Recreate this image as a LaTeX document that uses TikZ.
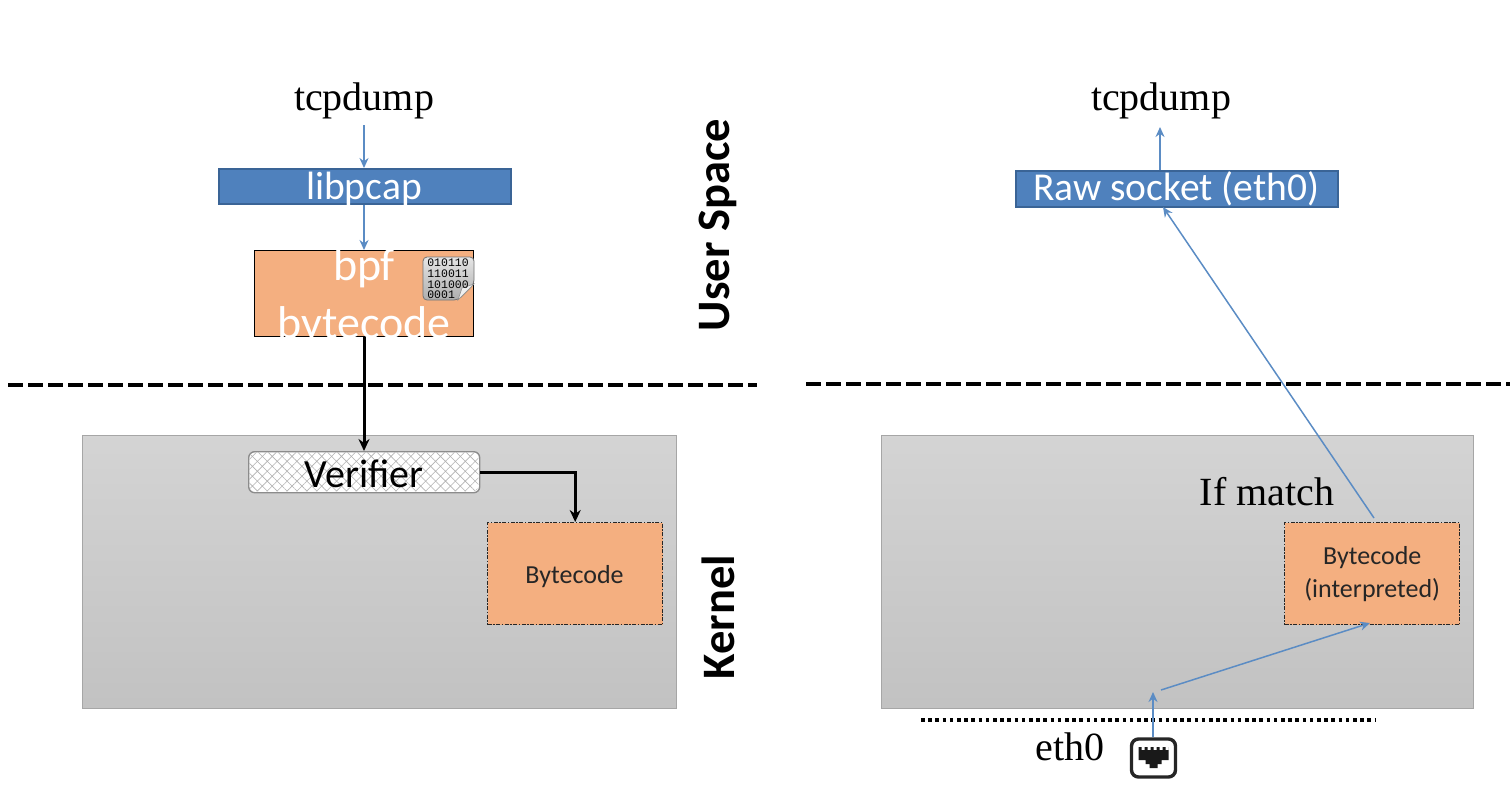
\documentclass[tikz,border=0pt]{standalone}
\usepackage{fontspec}
\setmainfont{Liberation Serif}
\newfontfamily\carl{Carlito}
\newfontfamily\monof{Liberation Mono}
\usetikzlibrary{patterns,patterns.meta,arrows.meta,calc}
\definecolor{blueA}{HTML}{4F81BD}
\definecolor{blueB}{HTML}{3A6496}
\definecolor{orangeA}{HTML}{F4AF80}
\definecolor{lineblue}{HTML}{5B8CC4}
\tikzset{
  px/.style={x=1pt,y=-1pt},
  serif/.style={font=\fontsize{40}{46}\selectfont,text=black,inner sep=0pt,anchor=base},
  bluebox/.style={draw=blueB,line width=1.6pt,fill=blueA,inner sep=0pt},
  bluetext/.style={text=white,inner sep=0pt,anchor=base,font=\carl\fontsize{39.5}{44}\selectfont},
  whitetext/.style={text=white,inner sep=0pt,anchor=base,font=\carl\fontsize{46}{52}\selectfont},
  panel/.style={draw=black!35,line width=1pt,top color=black!17,bottom color=black!24,inner sep=0pt},
  codebox/.style={draw=black!85,line width=1.4pt,dash pattern=on 4pt off 1.5pt on 1.5pt off 1.5pt,
    fill=orangeA,inner sep=0pt,align=center,text=black!85,
    font=\carl\fontsize{26}{33}\selectfont},
  codetext/.style={inner sep=0pt,anchor=base,text=black!85,font=\carl\fontsize{26}{33}\selectfont},
  thinarrow/.style={draw=lineblue,line width=1.5pt,-{Stealth[length=10pt,width=9pt]}},
  thickarrow/.style={draw=black,line width=3pt,-{Stealth[length=12pt,width=11pt]}},
  sep/.style={draw=black,line width=4.4pt,dash pattern=on 15pt off 5pt},
  sidelabel/.style={rotate=90,inner sep=0pt,text=black,font=\carl\bfseries\fontsize{46.5}{52}\selectfont},
}
\newcommand{\boxat}[6]{\node[#1,minimum width=#4pt,minimum height=#5pt,anchor=north west] (#2) at #3 {#6};}
\begin{document}
\begin{tikzpicture}[px]
\useasboundingbox (0,0) rectangle (1510,788);
% panels
\boxat{panel}{kernelL}{(82,435)}{594}{273}{}
\boxat{panel}{kernelR}{(881,435)}{592}{273}{}
% separators
\coordinate (sepLa) at (8,385); \coordinate (sepLb) at (757,385);
\coordinate (sepRa) at (806,384); \coordinate (sepRb) at (1510,384);
\draw[sep] (sepLa) -- (sepLb);
\draw[sep] (sepRa) -- (sepRb);
% left column
\node[serif] (tcpL) at (364,110) {tcpdump};
\boxat{bluebox}{libpcap}{(218,168)}{292}{35}{}
\node[bluetext] (libpcapT) at (364,199) {libpcap};
\node[draw=black,line width=1.2pt,fill=orangeA,minimum width=219pt,minimum height=86pt,anchor=north west,inner sep=0pt] (bpf) at (254,250) {};
\node[whitetext] (bpfA) at (364,280) {bpf};
\node[whitetext] (bpfB) at (364,338) {bytecode};
% binary document icon
\shade[top color=black!10,bottom color=black!32,draw=black!55,line width=.8pt,rounded corners=4pt]
  (423,257) -- (474,257) -- (474,284) -- (458,300) -- (423,300) -- cycle;
\fill[black!6,draw=black!45,line width=.6pt] (474,284) -- (462,288) -- (458,300) -- cycle;
\node[inner sep=0pt,align=left,text=black,font=\monof\fontsize{11.5}{10.6}\selectfont] (binary) at (448,279)
  {010110\\110011\\101000\\0001\phantom{00}};
% verifier
\node[draw=black!45,line width=1.4pt,rounded corners=6pt,anchor=north west,minimum width=231pt,minimum height=41pt,
  inner sep=0pt,fill=white] (verbg) at (248,451) {};
\node[rounded corners=5pt,anchor=north west,minimum width=229pt,minimum height=39pt,
  inner sep=0pt,pattern={Hatch[angle=45,distance=7pt,line width=.6pt]},pattern color=black!30] (verpat) at (249,452) {};
\node[inner sep=0pt,anchor=base,text=black,font=\carl\fontsize{40}{44}\selectfont] (verifier) at (364,487) {Verifier};
\boxat{codebox}{codeL}{(487,522)}{175}{102}{}
\node[codetext] (codeLT) at (574.5,583) {Bytecode};
% left connectors
\coordinate (a1) at (364,125);
\draw[thinarrow] (a1) -- (a1 |- libpcap.north);
\draw[thinarrow] (libpcap.south -| a1) -- (a1 |- bpf.north);
\draw[thickarrow] (a1 |- bpf.south) -- (a1 |- verbg.north);
\draw[thickarrow] (verbg.east) -- (codeL.north |- verbg.east) -- (codeL.north);
% side labels
\node[sidelabel] (user) at (718,225) {User Space};
\node[sidelabel] (kern) at (718,617) {Kernel};
% right column
\node[serif] (tcpR) at (1161,110) {tcpdump};
\boxat{bluebox}{raw}{(1015,170)}{322}{36}{}
\node[bluetext] (rawT) at (1176,200) {Raw socket (eth0)};
\boxat{codebox}{codeR}{(1284,522)}{175}{102}{Bytecode\\(interpreted)}
\node[serif] (match) at (1267,505) {If match};
\node[serif] (eth) at (1070,760) {eth0};
\coordinate (dotA) at (921,720); \coordinate (dotB) at (1376,720);
\draw[draw=black,line width=4pt,dash pattern=on 3.6pt off 3.6pt] (dotA) -- (dotB);
% ethernet port icon
\node[draw=black!85,line width=3.4pt,rounded corners=7pt,minimum width=44pt,minimum height=38pt,inner sep=0pt,fill=white] (port) at (1153.5,758) {};
\fill[black!90] ($(port.center)+(-15,-11)$) -- ++(3,0) -- ++(0,3) -- ++(3,0) -- ++(0,-3) -- ++(3,0) -- ++(0,3) -- ++(3,0) -- ++(0,-3) -- ++(3,0) -- ++(0,3) -- ++(3,0) -- ++(0,-3) -- ++(3,0) -- ++(0,3) -- ++(3,0) -- ++(0,-3) -- ++(3,0) -- ++(0,3) -- ++(3,0) -- ++(0,-3)
  -- ++(0,13) -- ++(-7,0) -- ++(0,4) -- ++(-4,0) -- ++(0,4) -- ++(-8,0) -- ++(0,-4) -- ++(-4,0) -- ++(0,-4) -- ++(-7,0) -- cycle;
% right connectors
\coordinate (r1) at (1160,127);
\coordinate (r2) at (1374,518);
\coordinate (r3) at (1163,207);
\coordinate (r4) at (1153,692);
\coordinate (r5) at (1161,690);
\coordinate (r6) at (1370,623);
\draw[thinarrow] (r1 |- raw.north) -- (r1);
\draw[thinarrow] (r2) -- (r3);
\draw[thinarrow] (port.north -| r4) -- (r4);
\draw[thinarrow] (r5) -- (r6);
\end{tikzpicture}
\end{document}
